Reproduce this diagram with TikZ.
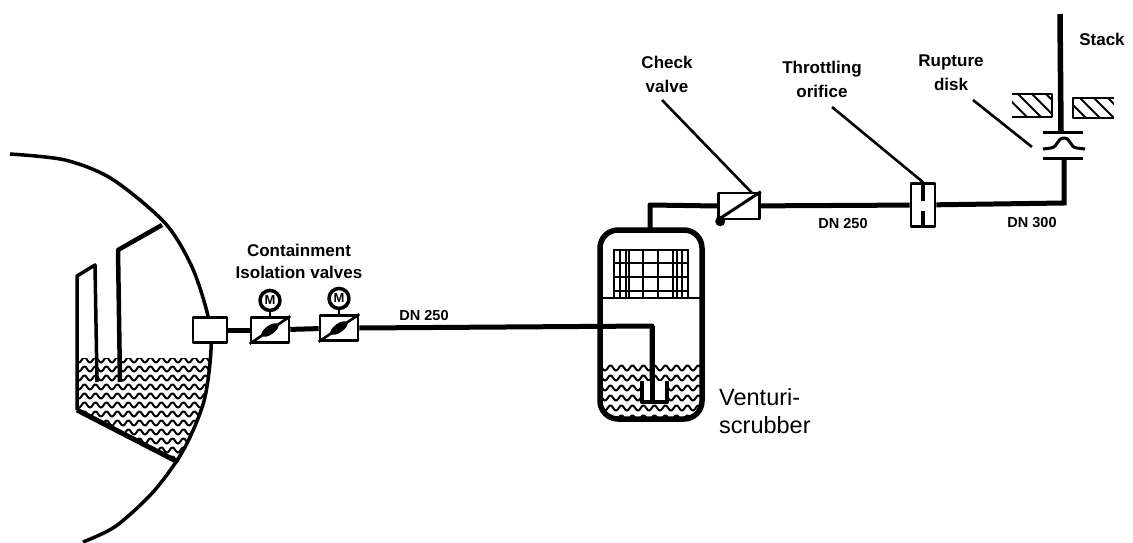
\documentclass[tikz,border=0pt]{standalone}
\usepackage{fontspec}
\setmainfont{Liberation Sans}
\usetikzlibrary{positioning,decorations.pathmorphing}
\tikzset{
  pipe/.style={line width=5pt},
  thinline/.style={line width=2pt},
  boxnode/.style={draw,line width=2.6pt,fill=white,inner sep=0pt},
  valvebox/.style={boxnode,minimum width=38pt,minimum height=25pt},
  gauge/.style={draw,circle,line width=3.5pt,fill=white,inner sep=0pt,minimum size=20pt,font=\fontsize{13}{13}\selectfont\bfseries},
  lbl/.style={inner sep=0pt,align=center,font=\fontsize{17}{24}\selectfont\bfseries},
  dn/.style={inner sep=0pt,font=\fontsize{14.5}{16}\selectfont\bfseries},
  wavy/.style={line width=2pt,decorate,decoration={snake,segment length=11pt,amplitude=2.6pt}}
}
\newcommand{\flapvalve}[1]{
  \node[gauge,above=4pt of #1] (#1gauge) {M};
  \draw[line width=2.6pt] (#1gauge) -- (#1);
  \draw[line width=2.6pt] (#1.south west) -- (#1.north east);
  \fill[rotate around={35:(#1.center)}] (#1.center) ellipse (10pt and 4.5pt);
}
\begin{document}
\begin{tikzpicture}[x=1pt,y=-1pt,line join=round]
\useasboundingbox (0,0) rectangle (1133,543);
\fill[white] (0,0) rectangle (1133,543);

% containment
\begin{scope}
\clip (78,358) -- (210,358) -- (207,385) -- (200,412) -- (190,440) -- (178,463) -- (77,410) -- cycle;
\foreach \y in {360,369,...,468}
  \draw[wavy] (70,\y) -- (220,\y);
\end{scope}
\draw[line width=3.5pt] plot[smooth] coordinates {(10,154) (65,160) (112,179) (165,223) (192,267) (208,316) (211,350) (204,401) (184,449) (154,491) (116,526) (83,542)};
\draw[line width=3.5pt] (97,382) -- (95,265) -- (77,276) -- (77,410);
\draw[line width=5pt] (77,410) -- (178,462);
\draw[line width=4.5pt] (120,382) -- (118,250) -- (162,225);

\node[boxnode,minimum width=34pt,minimum height=25pt] (penetration) at (210,330) {};
\node[valvebox] (valveA) at (270,330) {};
\node[valvebox] (valveB) at (339,328) {};
\flapvalve{valveA}
\flapvalve{valveB}
\draw[pipe] (penetration) -- (valveA);
\draw[pipe] (valveA) -- (valveB);
\coordinate (inlet) at (652,326);
\coordinate (dip) at (652,402);
\draw[pipe] (valveB.east) -- (inlet) -- (dip);

% scrubber
\begin{scope}
\clip[rounded corners=18pt] (601,231) rectangle (701,419);
\foreach \y in {368,378,...,418}
  \draw[wavy] (596,\y) -- (706,\y);
\end{scope}
\fill[white] (643,381) rectangle (667,401);
\draw[pipe] (inlet) -- (dip);
\draw[line width=4.5pt] (642,381) -- (642,402) -- (667,402) -- (667,381);
\draw[line width=5.5pt,rounded corners=18pt] (600,230) rectangle (702,419);
\draw[thinline] (600,298) -- (702,298);
\foreach \x in {614,620,626,629,643,658,673,677,682,688}
  \draw[line width=2.4pt] (\x,249) -- (\x,298);
\foreach \y in {250,263,277,291}
  \draw[line width=2.4pt] (613,\y) -- (689,\y);
\coordinate (outlet) at (650,230);
\coordinate (outcorner) at (650,205);

\node[boxnode,minimum width=41pt,minimum height=26pt] (checkvalve) at (739,206) {};
\draw[line width=3pt] (checkvalve.south west) -- (checkvalve.north east);
\fill (checkvalve.south west) ++(3,1) circle (5pt);
\draw[pipe] (outlet) -- (outcorner) -- (checkvalve.west);

\node[boxnode,minimum width=24pt,minimum height=43pt] (orifice) at (923,205) {};
\draw[line width=4pt] (orifice.north) -- ++(0,19);
\draw[line width=4pt] (orifice.south) -- ++(0,-17);
\draw[pipe] (checkvalve) -- (orifice);

% stack
\coordinate (stackcorner) at (1064,203);
\coordinate (flangelow) at (1064,158);
\coordinate (flangetop) at (1061,132);
\coordinate (stacktop) at (1060,14);
\draw[pipe,line join=miter] (orifice) -- (stackcorner) -- (flangelow);
\draw[line width=5.5pt] (flangetop) -- (stacktop);
\draw[line width=3pt] (1043,158) -- (1083,158);
\draw[line width=3pt] (1043,132) -- (1083,132);
\draw[line width=3pt] (1043,149) -- (1051,148) .. controls (1058,147) and (1057,138) .. (1064,138) .. controls (1071,138) and (1070,148) .. (1077,148) -- (1085,149);

% wall
\draw[line width=2.4pt] (1012,94) -- (1052,94) -- (1052,117) -- (1012,117);
\draw[line width=2.4pt] (1114,98) -- (1073,98) -- (1073,118) -- (1114,118);
\begin{scope}
\clip (1012,94) rectangle (1052,117);
\foreach \x in {1004,1018,...,1046}
  \draw[thinline] (\x,94) -- (\x+23,117);
\end{scope}
\begin{scope}
\clip (1073,98) rectangle (1114,118);
\foreach \x in {1066,1080,...,1108}
  \draw[thinline] (\x,98) -- (\x+20,118);
\end{scope}

% leaders
\node[lbl] (containlbl) at (299,261) {Containment\\[-2pt]Isolation valves};
\node[dn] (dnA) at (424,316) {DN 250};
\node[lbl] (checklbl) at (667,74) {Check\\valve};
\node[lbl] (throttlelbl) at (822,79) {Throttling\\orifice};
\node[lbl] (rupturelbl) at (951,73) {Rupture\\disk};
\node[lbl] (stacklbl) at (1102,39) {Stack};
\node[dn] (dnB) at (843,224) {DN 250};
\node[dn] (dnC) at (1032,223) {DN 300};
\node[inner sep=0pt,align=left,anchor=west,font=\fontsize{23.5}{28}\selectfont] (venturilbl) at (719,411) {Venturi-\\scrubber};
\coordinate (checkend) at (752,193);
\coordinate (checkstart) at (662,100);
\coordinate (throttlestart) at (832,107);
\coordinate (rupturestart) at (973,100);
\coordinate (ruptureend) at (1032,147);
\draw[line width=2.6pt] (checkstart) -- (checkend);
\draw[line width=2.6pt] (throttlestart) -- (orifice.north);
\draw[line width=2.6pt] (rupturestart) -- (ruptureend);
\end{tikzpicture}
\end{document}
